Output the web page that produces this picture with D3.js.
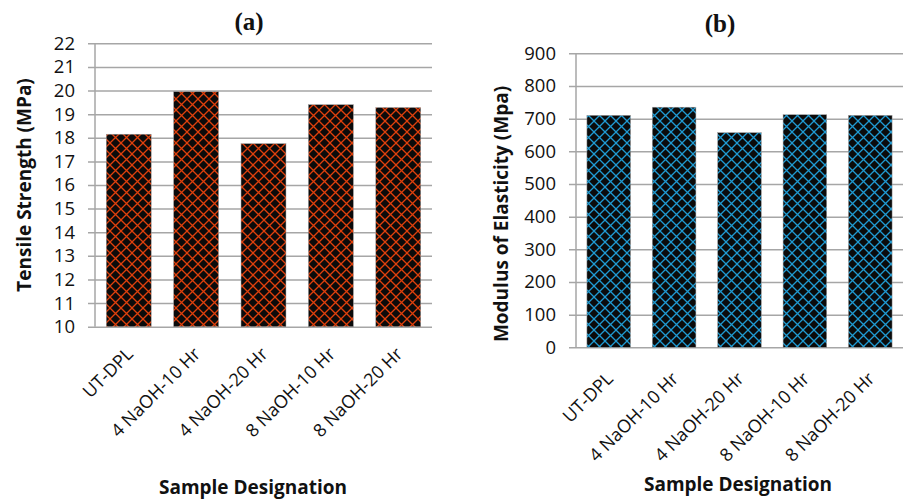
<!DOCTYPE html>
<html>
<head>
<meta charset="utf-8">
<script src="https://cdn.jsdelivr.net/npm/d3@7"></script>
<style>
  body { margin: 0; background: #fff; }
  svg { display: block; }
</style>
</head>
<body>
<svg id="chart" width="903" height="500"></svg>
<script>
// data
var samples = ["UT-DPL", "4 NaOH-10 Hr", "4 NaOH-20 Hr", "8 NaOH-10 Hr", "8 NaOH-20 Hr"];
var tensile = [18.15, 19.95, 17.75, 19.4, 19.28];
var modulus = [710, 735, 657, 712, 710];
var tensileTicks = [10, 11, 12, 13, 14, 15, 16, 17, 18, 19, 20, 21, 22];
var modulusTicks = [0, 100, 200, 300, 400, 500, 600, 700, 800, 900];

var svg = d3.select("#chart");
var defs = svg.append("defs");

function hatch(id, color) {
    var p = defs.append("pattern")
        .attr("id", id)
        .attr("patternUnits", "userSpaceOnUse")
        .attr("width", 11)
        .attr("height", 11);
    p.append("rect").attr("width", 11).attr("height", 11).attr("fill", "#0b0b0b");
    p.append("path")
        .attr("d", "M0,0 L11,11 M11,0 L0,11 M-1,10 L1,12 M10,-1 L12,1")
        .attr("stroke", color)
        .attr("stroke-width", 1.3)
        .attr("fill", "none");
}
hatch("hatchRed", "#e0400c");
hatch("hatchBlue", "#1f9ad2");

var font = "'Open Sans', sans-serif";

function panel(opt) {
    var x = d3.scaleBand()
        .domain(samples)
        .range([opt.x0, opt.x1])
        .paddingInner(0.333)
        .paddingOuter(0.167);
    var y = d3.scaleLinear()
        .domain(opt.domain)
        .range([opt.y0, opt.y1]);

    var g = svg.append("g");

    // grid + ticks
    var yAxis = d3.axisLeft(y)
        .tickValues(opt.ticks)
        .tickSize(-(opt.x1 - opt.x0 + 7))
        .tickPadding(13);
    g.append("g")
        .attr("transform", "translate(" + (opt.x0 - 7) + ",0)")
        .call(yAxis)
        .call(function(a) {
            a.select(".domain").remove();
            a.selectAll("line").attr("stroke", "#a6a6a6").attr("stroke-width", 1.5);
            a.selectAll("text")
                .attr("fill", "#111")
                .style("font-family", font)
                .style("font-size", "18.5px");
        });

    // vertical axis line
    g.append("line")
        .attr("x1", opt.x0).attr("x2", opt.x0)
        .attr("y1", opt.y1).attr("y2", opt.y0)
        .attr("stroke", "#a6a6a6").attr("stroke-width", 1.5);

    g.selectAll("rect.bar")
        .data(opt.values)
        .enter()
        .append("rect")
        .attr("class", "bar")
        .attr("x", function(d, i) { return x(samples[i]); })
        .attr("width", x.bandwidth())
        .attr("y", function(d) { return y(d); })
        .attr("height", function(d) { return opt.y0 - y(d); })
        .attr("fill", "url(#" + opt.pattern + ")")
        .attr("stroke", "#9a9a9a")
        .attr("stroke-width", 0.5);

    // category labels
    g.selectAll("text.cat")
        .data(samples)
        .enter()
        .append("text")
        .attr("class", "cat")
        .attr("transform", function(d) {
            return "translate(" + (x(d) + x.bandwidth() / 2 + 1) + "," + (opt.y0 + opt.catDy) + ") rotate(-45)";
        })
        .attr("text-anchor", "end")
        .attr("dy", "0.35em")
        .style("font-family", font)
        .style("font-size", "18px")
        .attr("fill", "#111")
        .text(function(d) { return d; });

    // axis titles
    g.append("text")
        .attr("transform", "translate(" + opt.ylabX + "," + opt.ylabY + ") rotate(-90)")
        .attr("text-anchor", "middle")
        .style("font-family", font)
        .style("font-weight", "bold")
        .style("font-size", "19px")
        .attr("fill", "#111")
        .text(opt.ylabel);

    g.append("text")
        .attr("x", opt.xlabX)
        .attr("y", opt.xlabY)
        .attr("text-anchor", "middle")
        .style("font-family", font)
        .style("font-weight", "bold")
        .style("font-size", "19px")
        .attr("fill", "#111")
        .text("Sample Designation");

    g.append("text")
        .attr("x", opt.titleX)
        .attr("y", opt.titleY)
        .attr("text-anchor", "middle")
        .style("font-family", "'Liberation Serif', 'Times New Roman', serif")
        .style("font-weight", "bold")
        .style("font-size", "25px")
        .attr("fill", "#111")
        .text(opt.title);
}

panel({
    values: tensile, domain: [10, 22], ticks: tensileTicks,
    x0: 95, x1: 432, y0: 326.7, y1: 43.3,
    pattern: "hatchRed", catDy: 24,
    ylabel: "Tensile Strength (MPa)", ylabX: 31, ylabY: 185,
    xlabX: 253, xlabY: 494, title: "(a)", titleX: 249, titleY: 30
});

panel({
    values: modulus, domain: [0, 900], ticks: modulusTicks,
    x0: 576, x1: 903, y0: 347.3, y1: 53.3,
    pattern: "hatchBlue", catDy: 28,
    ylabel: "Modulus of Elasticity (Mpa)", ylabX: 508, ylabY: 214,
    xlabX: 738, xlabY: 491, title: "(b)", titleX: 720, titleY: 32
});
</script>
</body>
</html>
